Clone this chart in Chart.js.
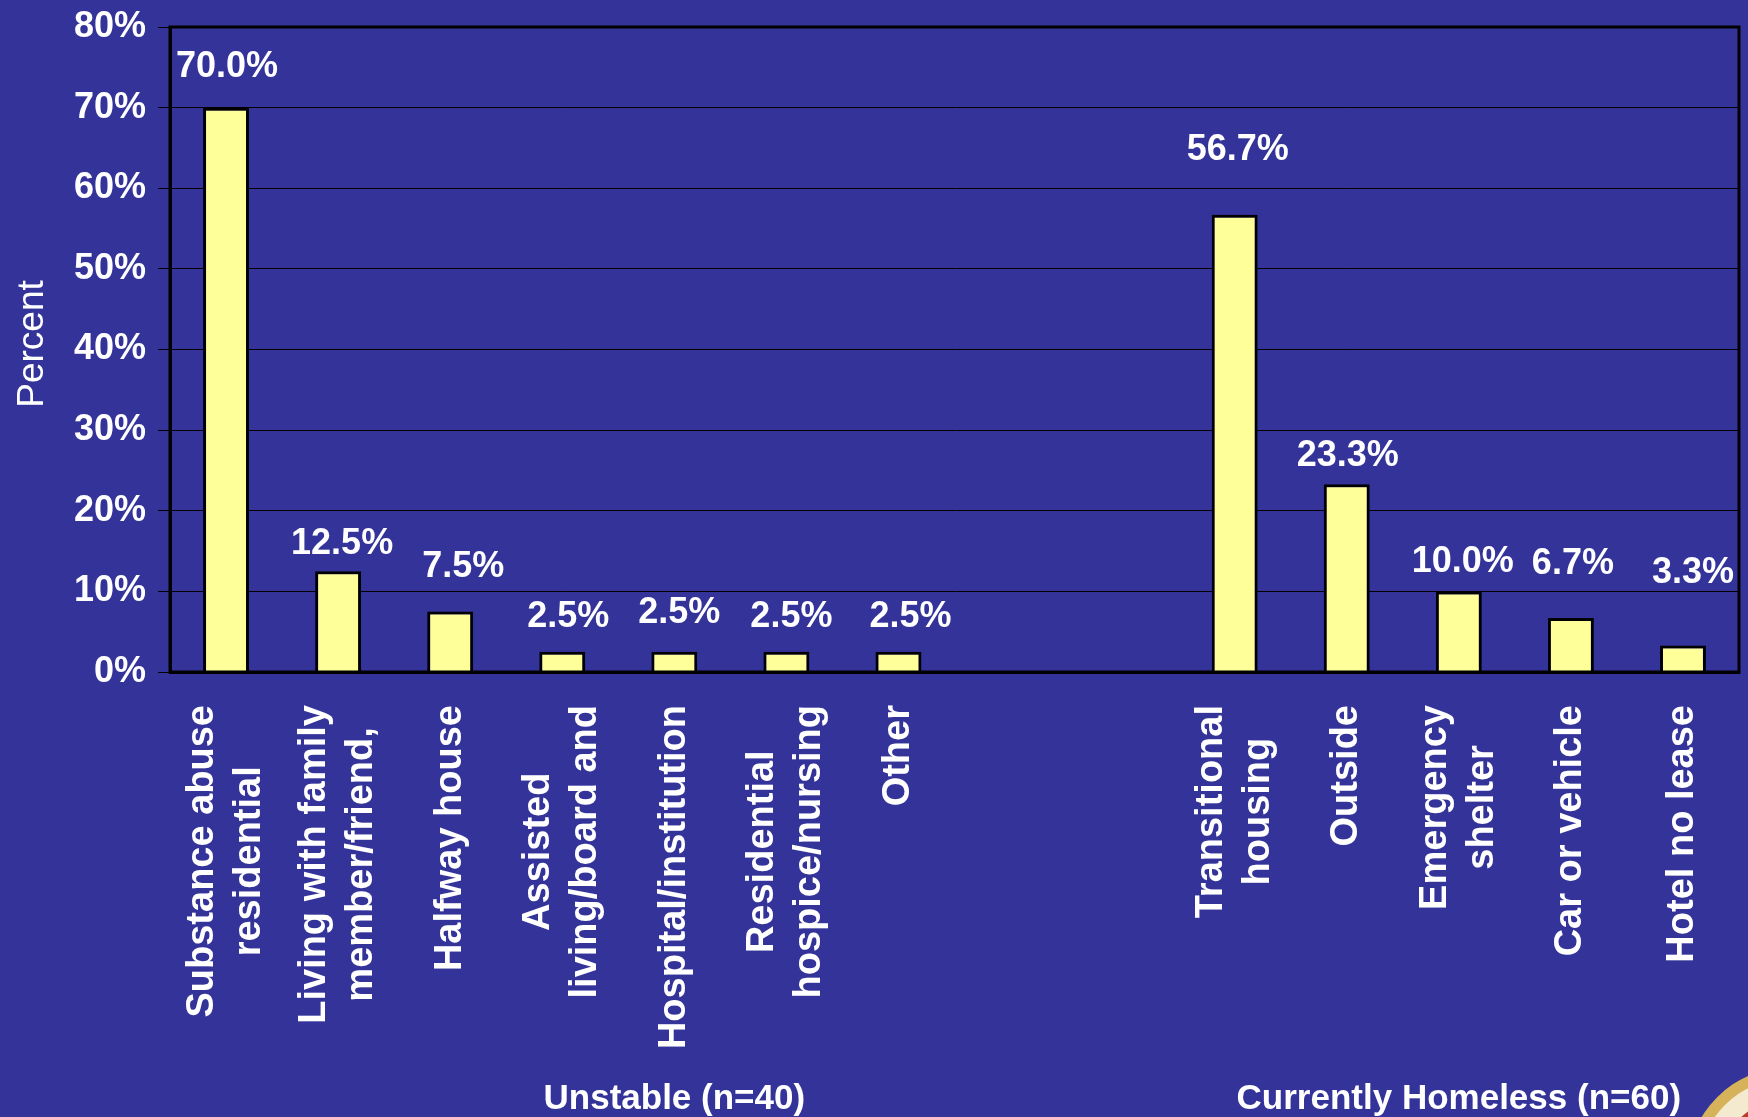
<!DOCTYPE html>
<html>
<head>
<meta charset="utf-8">
<script src="https://cdn.jsdelivr.net/npm/chart.js@4/dist/chart.umd.min.js"></script>
<style>
    html, body { margin: 0; padding: 0; background: #333399; }
    canvas { display: block; }
</style>
</head>
<body>
<canvas id="housingChart" width="1748" height="1117"></canvas>
<script>
// Kategoriler (iki boş sütun grupları ayırıyor)
const categories = [
    ['Substance abuse', 'residential'],
    ['Living with family', 'member/friend,'],
    ['Halfway house'],
    ['Assisted', 'living/board and'],
    ['Hospital/institution'],
    ['Residential', 'hospice/nursing'],
    ['Other'],
    [''],
    [''],
    ['Transitional', 'housing'],
    ['Outside'],
    ['Emergency', 'shelter'],
    ['Car or vehicle'],
    ['Hotel no lease']
];
const percentValues = [70.0, 12.5, 7.5, 2.5, 2.5, 2.5, 2.5, null, null, 56.7, 23.3, 10.0, 6.7, 3.3];
const yTicks = [0, 10, 20, 30, 40, 50, 60, 70, 80];
const groupLabels = ['Unstable (n=40)', 'Currently Homeless (n=60)'];
const groupCenters = [4, 11];

// etiketlerin çubuğa göre kayması (px)
const labelDx = [1, 4, 13, 6, 5, 5, 12, 0, 0, 3, 1, 4, 2, 10];
const labelGap = [31, 17, 35, 25, 29, 25, 25, 0, 0, 55, 18, 19, 44, 62];

const FONT = "'Liberation Sans', Arial, sans-serif";

const overlayPlugin = {
    id: 'overlay',
    afterDraw(chart) {
        const ctx = chart.ctx;
        const area = chart.chartArea;
        const xScale = chart.scales.x;

        // çerçeve
        ctx.save();
        ctx.strokeStyle = '#000';
        ctx.lineWidth = 3;
        ctx.strokeRect(area.left, area.top, area.right - area.left, area.bottom - area.top);
        ctx.restore();

        // değer etiketleri
        ctx.save();
        ctx.fillStyle = '#fff';
        ctx.font = 'bold 36px ' + FONT;
        ctx.textAlign = 'center';
        ctx.textBaseline = 'alphabetic';
        chart.getDatasetMeta(0).data.forEach((bar, i) => {
            const v = percentValues[i];
            if (v === null) return;
            ctx.fillText(v.toFixed(1) + '%', bar.x + labelDx[i], bar.y - labelGap[i]);
        });
        ctx.restore();

        // kategori etiketleri (dikey, satırlar ortalı)
        ctx.save();
        ctx.fillStyle = '#fff';
        ctx.font = 'bold 38px ' + FONT;
        ctx.textAlign = 'center';
        ctx.textBaseline = 'middle';
        const lineStep = 47;
        const topY = area.bottom + 33;
        categories.forEach((lines, i) => {
            const cx = xScale.getPixelForValue(i);
            const maxW = Math.max(...lines.map(l => ctx.measureText(l).width));
            lines.forEach((line, k) => {
                const lx = cx + (k - (lines.length - 1) / 2) * lineStep;
                ctx.save();
                ctx.translate(lx, topY + maxW / 2);
                ctx.rotate(-Math.PI / 2);
                ctx.fillText(line, 0, 0);
                ctx.restore();
            });
        });
        ctx.restore();

        // grup etiketleri
        ctx.save();
        ctx.fillStyle = '#fff';
        ctx.font = 'bold 35px ' + FONT;
        ctx.textAlign = 'center';
        ctx.textBaseline = 'alphabetic';
        groupLabels.forEach((g, i) => {
            ctx.fillText(g, xScale.getPixelForValue(groupCenters[i]), 1109);
        });
        ctx.restore();

        // eksen başlığı
        ctx.save();
        ctx.fillStyle = '#fff';
        ctx.font = '37px ' + FONT;
        ctx.textAlign = 'center';
        ctx.textBaseline = 'alphabetic';
        ctx.translate(43, 344);
        ctx.rotate(-Math.PI / 2);
        ctx.fillText('Percent', 0, 0);
        ctx.restore();

        // köşedeki mühür (kısmen görünür)
        ctx.save();
        ctx.beginPath();
        ctx.arc(1790, 1170, 103, 0, Math.PI * 2);
        ctx.fillStyle = '#d6b25a';
        ctx.fill();
        ctx.beginPath();
        ctx.arc(1790, 1170, 92, 0, Math.PI * 2);
        ctx.fillStyle = '#f3ead0';
        ctx.fill();
        ctx.beginPath();
        ctx.arc(1790, 1170, 72, 0, Math.PI * 2);
        ctx.fillStyle = '#c0392b';
        ctx.fill();
        ctx.restore();
    }
};

const housingChart = new Chart(
    document.getElementById('housingChart'),
    {
        type: 'bar',
        data: {
            labels: categories,
            datasets: [{
                label: 'Percent',
                data: percentValues,
                backgroundColor: '#FFFF99',
                borderColor: '#000',
                borderWidth: 3,
                barPercentage: 0.41,
                categoryPercentage: 1
            }]
        },
        options: {
            responsive: false,
            devicePixelRatio: 1,
            animation: false,
            layout: {
                padding: { left: 0, top: 27, right: 9, bottom: 0 }
            },
            plugins: {
                legend: { display: false },
                tooltip: { enabled: false }
            },
            scales: {
                x: {
                    ticks: { display: false },
                    grid: { display: false },
                    border: { display: true, color: '#000', width: 3 },
                    afterFit: scale => { scale.height = 445; }
                },
                y: {
                    min: 0,
                    max: 80,
                    afterBuildTicks: scale => {
                        scale.ticks = yTicks.map(v => ({ value: v }));
                    },
                    ticks: {
                        color: '#fff',
                        font: { family: FONT, size: 36, weight: 'bold', lineHeight: 0.8 },
                        padding: 12,
                        callback: v => v + '%'
                    },
                    grid: {
                        color: '#000',
                        lineWidth: 1,
                        tickLength: 12,
                        tickColor: '#000'
                    },
                    border: { display: true, color: '#000', width: 3 },
                    afterFit: scale => { scale.width = 170; }
                }
            }
        },
        plugins: [overlayPlugin]
    }
);
</script>
</body>
</html>
